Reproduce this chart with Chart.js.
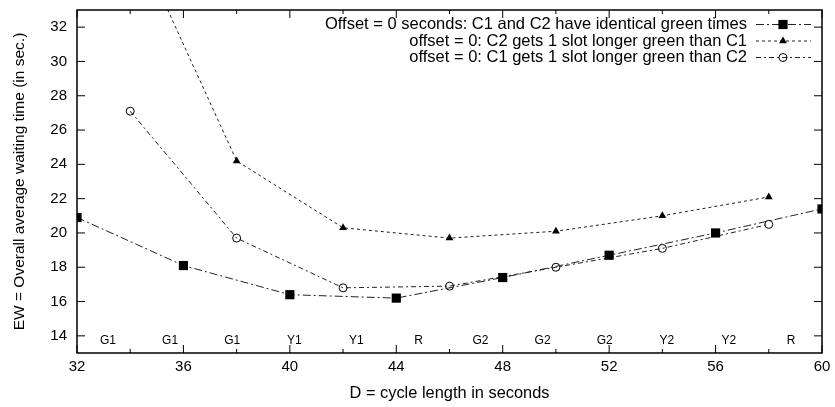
<!DOCTYPE html>
<html>
<head>
<meta charset="utf-8">
<script src="https://cdn.jsdelivr.net/npm/chart.js@4/dist/chart.umd.min.js"></script>
<style>
  html, body { margin: 0; padding: 0; background: #fff; }
</style>
</head>
<body>
<canvas id="chart" width="835" height="407"></canvas>
<script>
// values
const identicalX = [32, 36, 40, 44, 48, 52, 56, 60]
const identicalEW = [20.9, 18.1, 16.4, 16.2, 17.4, 18.7, 20.0, 21.4]
const c2LongerX = [34, 38, 42, 46, 50, 54, 58]
const c2LongerEW = [37.8, 24.2, 20.3, 19.7, 20.1, 21.0, 22.1]
const c1LongerX = [34, 38, 42, 46, 50, 54, 58]
const c1LongerEW = [27.1, 19.7, 16.8, 16.9, 18.0, 19.1, 20.5]

const seriesLabels = [
  'Offset = 0 seconds: C1 and C2 have identical green times',
  'offset = 0: C2 gets 1 slot longer green than C1',
  'offset = 0: C1 gets 1 slot longer green than C2'
]
const phaseLabels = ['G1', 'G1', 'G1', 'Y1', 'Y1', 'R', 'G2', 'G2', 'G2', 'Y2', 'Y2', 'R']
const xTicks = [32, 36, 40, 44, 48, 52, 56, 60]
const xMinorTicks = [34, 38, 42, 46, 50, 54, 58]
const yTicks = [14, 16, 18, 20, 22, 24, 26, 28, 30, 32]

const FONT = '"Liberation Sans", Arial, sans-serif'
const LINE = '#222'

const toPoints = (xs, ys) => xs.map((x, i) => ({ x: x, y: ys[i] }))

function drawMarker(ctx, style, r, x, y) {
  ctx.beginPath()
  if (style === 'rect') {
    const s = r * Math.SQRT1_2
    ctx.rect(x - s, y - s, 2 * s, 2 * s)
    ctx.fill()
  } else if (style === 'triangle') {
    ctx.moveTo(x, y - r)
    ctx.lineTo(x + r * 0.866, y + r / 2)
    ctx.lineTo(x - r * 0.866, y + r / 2)
    ctx.closePath()
    ctx.fill()
  } else {
    ctx.arc(x, y, r, 0, Math.PI * 2)
    ctx.stroke()
  }
}

// no extra room for half-labels, the area is fixed below
function fixBox(s, w, h) {
  if (w) s.width = w
  if (h) s.height = h
  s.paddingTop = 0; s.paddingBottom = 0; s.paddingLeft = 0; s.paddingRight = 0
}

const decorations = {
  id: 'decorations',
  afterDatasetsDraw(chart) {
    const { ctx, chartArea: a, scales: { x, y } } = chart
    ctx.save()

    // frame + inward ticks (gnuplot style)
    ctx.strokeStyle = '#000'
    ctx.lineWidth = 1.5
    ctx.strokeRect(a.left, a.top, a.right - a.left, a.bottom - a.top)
    ctx.lineWidth = 1
    ctx.beginPath()
    xTicks.forEach(v => {
      const px = x.getPixelForValue(v)
      ctx.moveTo(px, a.bottom); ctx.lineTo(px, a.bottom - 8)
      ctx.moveTo(px, a.top); ctx.lineTo(px, a.top + 8)
    })
    xMinorTicks.forEach(v => {
      const px = x.getPixelForValue(v)
      ctx.moveTo(px, a.bottom); ctx.lineTo(px, a.bottom - 4)
      ctx.moveTo(px, a.top); ctx.lineTo(px, a.top + 4)
    })
    yTicks.forEach(v => {
      const py = y.getPixelForValue(v)
      ctx.moveTo(a.left, py); ctx.lineTo(a.left + 8, py)
      ctx.moveTo(a.right, py); ctx.lineTo(a.right - 8, py)
    })
    ctx.stroke()

    // phase labels along the bottom
    ctx.fillStyle = '#000'
    ctx.font = '12px ' + FONT
    ctx.textAlign = 'center'
    ctx.textBaseline = 'middle'
    const step = (x.max - x.min) / phaseLabels.length
    phaseLabels.forEach((t, i) => {
      ctx.fillText(t, x.getPixelForValue(x.min + (i + 0.5) * step), a.bottom - 12)
    })

    // axis titles
    ctx.font = '16.4px ' + FONT
    ctx.fillText('D = cycle length in seconds', (a.left + a.right) / 2, 393)
    ctx.save()
    ctx.font = '15.5px ' + FONT
    ctx.translate(20, (a.top + a.bottom) / 2)
    ctx.rotate(-Math.PI / 2)
    ctx.fillText('EW = Overall average waiting time (in sec.)', 0, 0)
    ctx.restore()

    // key, top right
    ctx.font = '16.5px ' + FONT
    ctx.textAlign = 'right'
    chart.data.datasets.forEach((ds, i) => {
      const rowY = 24.5 + i * 16.5
      ctx.fillStyle = '#000'
      ctx.fillText(ds.label, 747, rowY)
      ctx.strokeStyle = ds.borderColor
      ctx.lineWidth = ds.borderWidth
      ctx.setLineDash(ds.borderDash)
      ctx.beginPath()
      ctx.moveTo(756, rowY); ctx.lineTo(811, rowY)
      ctx.stroke()
      ctx.setLineDash([])
      ctx.fillStyle = '#000'
      ctx.strokeStyle = '#000'
      drawMarker(ctx, ds.pointStyle, ds.pointRadius, 783, rowY)
    })
    ctx.restore()
  }
}

new Chart(document.getElementById('chart'), {
  type: 'line',
  data: {
    datasets: [
      {
        label: seriesLabels[0],
        data: toPoints(identicalX, identicalEW),
        borderColor: LINE, borderWidth: 1, borderDash: [8, 3, 2, 3],
        pointStyle: 'rect', pointRadius: 6.5,
        pointBackgroundColor: '#000', pointBorderColor: '#000', pointBorderWidth: 0
      },
      {
        label: seriesLabels[1],
        data: toPoints(c2LongerX, c2LongerEW),
        borderColor: LINE, borderWidth: 1, borderDash: [3, 3],
        pointStyle: 'triangle', pointRadius: 4.5,
        pointBackgroundColor: '#000', pointBorderColor: '#000', pointBorderWidth: 0
      },
      {
        label: seriesLabels[2],
        data: toPoints(c1LongerX, c1LongerEW),
        borderColor: LINE, borderWidth: 1, borderDash: [5, 3, 2, 3],
        pointStyle: 'circle', pointRadius: 4,
        pointBackgroundColor: 'rgba(0,0,0,0)', pointBorderColor: '#000', pointBorderWidth: 1
      }
    ]
  },
  options: {
    responsive: false,
    animation: false,
    devicePixelRatio: 1,
    layout: { padding: { top: 10, right: 13, left: 0, bottom: 0 } },
    plugins: { legend: { display: false }, tooltip: { enabled: false } },
    scales: {
      x: {
        type: 'linear', min: 32, max: 60,
        afterBuildTicks: s => { s.ticks = xTicks.map(v => ({ value: v })) },
        afterFit: s => fixBox(s, 0, 54),
        grid: { display: false, drawTicks: false },
        border: { display: false },
        ticks: { color: '#000', padding: 5, maxRotation: 0, font: { family: FONT, size: 15 } }
      },
      y: {
        type: 'linear', min: 13, max: 33,
        afterBuildTicks: s => { s.ticks = yTicks.map(v => ({ value: v })) },
        afterFit: s => fixBox(s, 77, 0),
        grid: { display: false, drawTicks: false },
        border: { display: false },
        ticks: { color: '#000', padding: 10, font: { family: FONT, size: 15 } }
      }
    }
  },
  plugins: [decorations]
})
</script>
</body>
</html>
